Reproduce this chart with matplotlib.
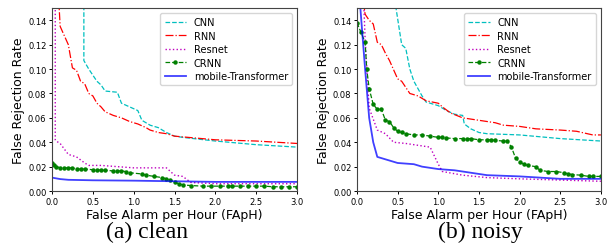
import matplotlib
matplotlib.use("Agg")
import matplotlib.pyplot as plt

# ---- clean ----
cnn_clean_x = [0.39, 0.39, 0.45, 0.5, 0.55, 0.6, 0.65, 0.8, 0.85, 0.95, 1.05, 1.1, 1.2, 1.3, 1.4, 1.5, 1.6, 2.0, 2.5, 3.0]
cnn_clean_y = [0.16, 0.107, 0.100, 0.095, 0.090, 0.087, 0.082, 0.081, 0.072, 0.069, 0.066, 0.058, 0.054, 0.052, 0.048, 0.045, 0.044, 0.041, 0.038, 0.036]

rnn_clean_x = [0.08, 0.1, 0.2, 0.25, 0.3, 0.35, 0.4, 0.45, 0.5, 0.55, 0.6, 0.65, 0.75, 0.85, 0.95, 1.05, 1.15, 1.2, 1.3, 1.4, 1.5, 2.0, 2.5, 3.0]
rnn_clean_y = [0.16, 0.135, 0.120, 0.101, 0.099, 0.090, 0.088, 0.080, 0.078, 0.072, 0.069, 0.065, 0.062, 0.060, 0.057, 0.055, 0.052, 0.050, 0.048, 0.047, 0.045, 0.042, 0.041, 0.039]

res_clean_x = [0.04, 0.04, 0.05, 0.1, 0.2, 0.3, 0.4, 0.45, 0.6, 0.8, 1.0, 1.4, 1.5, 1.6, 1.7, 2.0, 3.0]
res_clean_y = [0.16, 0.042, 0.041, 0.039, 0.030, 0.028, 0.023, 0.021, 0.021, 0.020, 0.019, 0.019, 0.013, 0.012, 0.007, 0.006, 0.006]

crnn_clean_x = [0.0, 0.02, 0.05, 0.1, 0.15, 0.2, 0.25, 0.3, 0.35, 0.4, 0.5, 0.55, 0.6, 0.65, 0.75, 0.8, 0.85, 0.9,
                0.95, 1.1, 1.15, 1.25, 1.35, 1.4, 1.45, 1.5, 1.55, 1.6, 1.7, 1.85, 1.95, 2.05, 2.15, 2.2, 2.3, 2.4,
                2.5, 2.6, 2.7, 2.8, 2.9, 3.0]
crnn_clean_y = [0.023, 0.021, 0.020, 0.019, 0.019, 0.019, 0.019, 0.018, 0.018, 0.018, 0.0175, 0.0175, 0.017, 0.017,
                0.0165, 0.0165, 0.0165, 0.016, 0.015, 0.014, 0.013, 0.012, 0.011, 0.010, 0.009, 0.007, 0.006, 0.005,
                0.0045, 0.004, 0.004, 0.004, 0.004, 0.004, 0.004, 0.004, 0.004, 0.004, 0.0035, 0.0035, 0.0035, 0.0035]

mt_clean_x = [0.0, 0.1, 0.2, 0.5, 1.0, 1.5, 2.0, 3.0]
mt_clean_y = [0.011, 0.0098, 0.0092, 0.0088, 0.0085, 0.008, 0.0075, 0.0075]

# ---- noisy ----
cnn_noisy_x = [0.48, 0.48, 0.55, 0.6, 0.65, 0.7, 0.8, 0.85, 1.0, 1.1, 1.2, 1.3, 1.32, 1.4, 1.5, 1.6, 2.0, 2.5, 3.0]
cnn_noisy_y = [0.16, 0.150, 0.120, 0.117, 0.100, 0.090, 0.078, 0.073, 0.070, 0.066, 0.063, 0.062, 0.055, 0.051, 0.048, 0.047, 0.046, 0.043, 0.041]

rnn_noisy_x = [0.07, 0.1, 0.15, 0.2, 0.25, 0.3, 0.35, 0.4, 0.5, 0.55, 0.6, 0.65, 0.75, 0.85, 1.0, 1.05, 1.15, 1.3, 1.5,
               1.7, 1.8, 2.0, 2.2, 2.5, 2.7, 2.9, 3.0]
rnn_noisy_y = [0.16, 0.145, 0.140, 0.137, 0.122, 0.120, 0.113, 0.107, 0.092, 0.090, 0.085, 0.080, 0.078, 0.074, 0.072,
               0.069, 0.064, 0.060, 0.058, 0.056, 0.054, 0.053, 0.051, 0.050, 0.049, 0.046, 0.046]

res_noisy_x = [0.08, 0.1, 0.15, 0.25, 0.35, 0.45, 0.6, 0.8, 0.9, 1.0, 1.05, 1.3, 1.6, 2.0, 2.5, 3.0]
res_noisy_y = [0.16, 0.125, 0.068, 0.050, 0.047, 0.040, 0.039, 0.037, 0.036, 0.022, 0.016, 0.013, 0.011, 0.010, 0.009, 0.008]

crnn_noisy_x = [0.0, 0.05, 0.1, 0.12, 0.15, 0.2, 0.25, 0.3, 0.35, 0.4, 0.45, 0.5, 0.55, 0.6, 0.7, 0.8, 0.9, 1.0, 1.05,
                1.1, 1.2, 1.3, 1.35, 1.4, 1.5, 1.6, 1.65, 1.7, 1.8, 1.85, 1.9, 1.95, 2.0, 2.05, 2.1, 2.2, 2.25, 2.35,
                2.45, 2.55, 2.6, 2.65, 2.75, 2.85, 2.9, 3.0]
crnn_noisy_y = [0.138, 0.130, 0.122, 0.100, 0.084, 0.071, 0.067, 0.067, 0.058, 0.057, 0.052, 0.049, 0.048, 0.047, 0.046,
                0.046, 0.045, 0.044, 0.044, 0.0435, 0.043, 0.043, 0.043, 0.043, 0.042, 0.042, 0.042, 0.0415, 0.041,
                0.041, 0.036, 0.027, 0.024, 0.022, 0.021, 0.020, 0.017, 0.016, 0.016, 0.015, 0.014, 0.0135, 0.013,
                0.012, 0.012, 0.012]

mt_noisy_x = [0.03, 0.1, 0.15, 0.2, 0.25, 0.3, 0.4, 0.5, 0.7, 0.8, 1.0, 1.2, 1.4, 1.6, 2.0, 2.5, 3.0]
mt_noisy_y = [0.16, 0.100, 0.060, 0.040, 0.028, 0.027, 0.025, 0.023, 0.022, 0.020, 0.018, 0.017, 0.015, 0.013, 0.012, 0.010, 0.010]

captions = ["(a) clean", "(b) noisy"]

fig = plt.figure(figsize=(6.16, 2.53), dpi=100)
ax1 = fig.add_axes([0.0844, 0.241, 0.398, 0.723])
ax2 = fig.add_axes([0.5795, 0.241, 0.396, 0.723])

data = [
    (ax1, cnn_clean_x, cnn_clean_y, rnn_clean_x, rnn_clean_y, res_clean_x, res_clean_y,
     crnn_clean_x, crnn_clean_y, mt_clean_x, mt_clean_y),
    (ax2, cnn_noisy_x, cnn_noisy_y, rnn_noisy_x, rnn_noisy_y, res_noisy_x, res_noisy_y,
     crnn_noisy_x, crnn_noisy_y, mt_noisy_x, mt_noisy_y),
]

for ax, cx, cy, rx, ry, sx, sy, gx, gy, mx, my in data:
    ax.plot(cx, cy, "c--", lw=0.9, label="CNN")
    ax.plot(rx, ry, "r-.", lw=0.9, label="RNN")
    ax.plot(sx, sy, "m:", lw=1.0, label="Resnet")
    ax.plot(gx, gy, "g--", marker="o", ms=2.2, lw=0.9, label="CRNN")
    ax.plot(mx, my, "b-", lw=1.3, alpha=0.75, label="mobile-Transformer")
    ax.set_xlim(0, 3.0)
    ax.set_ylim(0, 0.15)
    ax.set_xticks([0, 0.5, 1.0, 1.5, 2.0, 2.5, 3.0])
    ax.set_yticks([0, 0.02, 0.04, 0.06, 0.08, 0.10, 0.12, 0.14])
    ax.tick_params(labelsize=6, length=2.5, width=0.7, pad=1.5)
    ax.set_xlabel("False Alarm per Hour (FApH)", fontsize=9, labelpad=2)
    ax.set_ylabel("False Rejection Rate", fontsize=9, labelpad=2)
    ax.yaxis.set_major_formatter(plt.FormatStrFormatter("%.2f"))
    ax.xaxis.set_major_formatter(plt.FormatStrFormatter("%.1f"))
    for sp in ax.spines.values():
        sp.set_color("#444444")
    ax.legend(loc="upper right", fontsize=7, handlelength=2.2, labelspacing=0.35, borderpad=0.45)

fig.text(147 / 616, 1 - 232 / 253, captions[0], fontsize=17, family="Liberation Serif", ha="center", va="center")
fig.text(480 / 616, 1 - 232 / 253, captions[1], fontsize=17, family="Liberation Serif", ha="center", va="center")

plt.savefig("out.png", dpi=100)
